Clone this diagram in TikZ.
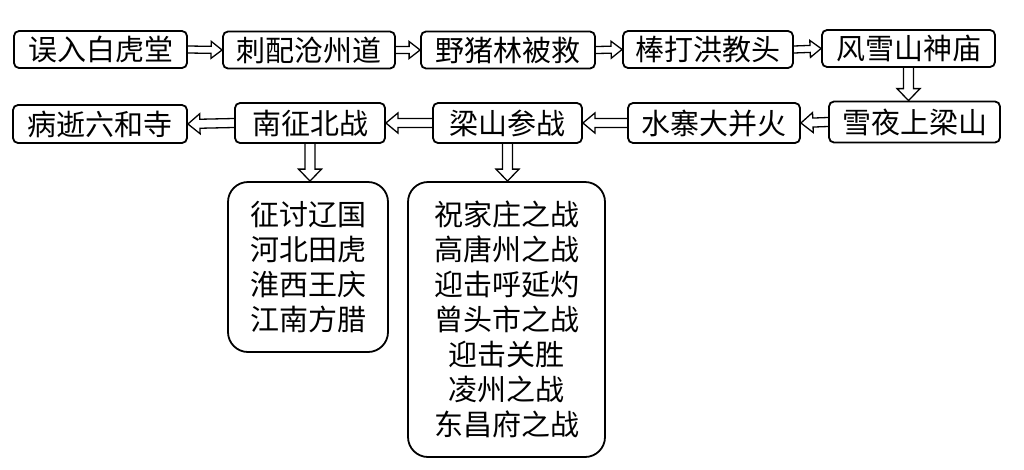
\documentclass[tikz,border=0pt]{standalone}
\usepackage{fontspec}
\setmainfont{Noto Sans CJK SC}
\usetikzlibrary{calc}
\tikzset{
  box/.style={draw, line width=1.8pt, rounded corners=5pt, inner sep=0pt,
    minimum height=#1, font=\fontsize{29}{35}\selectfont},
  bigbox/.style={draw, line width=1.8pt, rounded corners=20pt, inner sep=0pt,
    align=center, font=\fontsize{29}{35}\selectfont},
  barrow/.style n args={3}{line width=1.3pt, line join=miter, to path={
    let \p1=($(\tikztotarget)-(\tikztostart)$), \n1={atan2(\y1,\x1)}, \n2={veclen(\x1,\y1)} in
    ($(\tikztostart)+(\n1+90:#1/2)$)
    -- ($(\tikztostart)+(\n1:\n2*1pt-#3)+(\n1+90:#1/2)$)
    -- ($(\tikztostart)+(\n1:\n2*1pt-#3)+(\n1+90:#2/2)$)
    -- (\tikztotarget)
    -- ($(\tikztostart)+(\n1:\n2*1pt-#3)+(\n1-90:#2/2)$)
    -- ($(\tikztostart)+(\n1:\n2*1pt-#3)+(\n1-90:#1/2)$)
    -- ($(\tikztostart)+(\n1-90:#1/2)$)
  }},
  arrA/.style={barrow={7pt}{17pt}{11pt}},
  arrB/.style={barrow={9pt}{20pt}{12pt}},
  arrC/.style={barrow={10pt}{23pt}{12pt}},
}
\begin{document}
\begin{tikzpicture}[x=1pt,y=-1pt]
\useasboundingbox (0,0) rectangle (1024,469);
% row 1
\node[box=37pt, minimum width=173pt] (n1) at (100.5,49.5) {误入白虎堂};
\node[box=37pt, minimum width=172pt] (n2) at (309,50) {刺配沧州道};
\node[box=37pt, minimum width=174pt] (n3) at (508,50) {野猪林被救};
\node[box=37pt, minimum width=170pt] (n4) at (708,49.5) {棒打洪教头};
\node[box=37pt, minimum width=173pt] (n5) at (908.5,48.5) {风雪山神庙};
% row 2
\node[box=41pt, minimum width=171pt] (m1) at (914.5,122) {雪夜上梁山};
\node[box=40pt, minimum width=172pt] (m2) at (714,123) {水寨大并火};
\node[box=40pt, minimum width=149pt] (m3) at (507.5,123) {梁山参战};
\node[box=40pt, minimum width=150pt] (m4) at (310,123) {南征北战};
\node[box=38pt, minimum width=174pt] (m5) at (100,124) {病逝六和寺};
% sub boxes
\node[bigbox, minimum width=160pt, minimum height=170pt] (s1) at (308,267)
  {征讨辽国\\河北田虎\\淮西王庆\\江南方腊};
\node[bigbox, minimum width=197pt, minimum height=275pt] (s2) at (506.5,319.5)
  {祝家庄之战\\高唐州之战\\迎击呼延灼\\曾头市之战\\迎击关胜\\凌州之战\\东昌府之战};
% arrows row 1
\draw[arrA] (n1.east) to (n2.west);
\draw[arrA] (n2.east) to (n3.west);
\draw[arrA] (n3.east) to (n4.west);
\draw[arrA] (n4.east) to (n5.west);
% down
\draw[arrC] (n5.south) to (n5.south |- m1.north);
% row 2
\draw[arrB] (m1.west) to (m2.east);
\draw[arrB] (m2.west) to (m3.east);
\draw[arrB] (m3.west) to (m4.east);
\draw[arrB] (m4.west) to (m5.east);
% down to sub boxes
\draw[arrC] (m4.south) to (m4.south |- s1.north);
\draw[arrC] (m3.south) to (m3.south |- s2.north);
\end{tikzpicture}
\end{document}
